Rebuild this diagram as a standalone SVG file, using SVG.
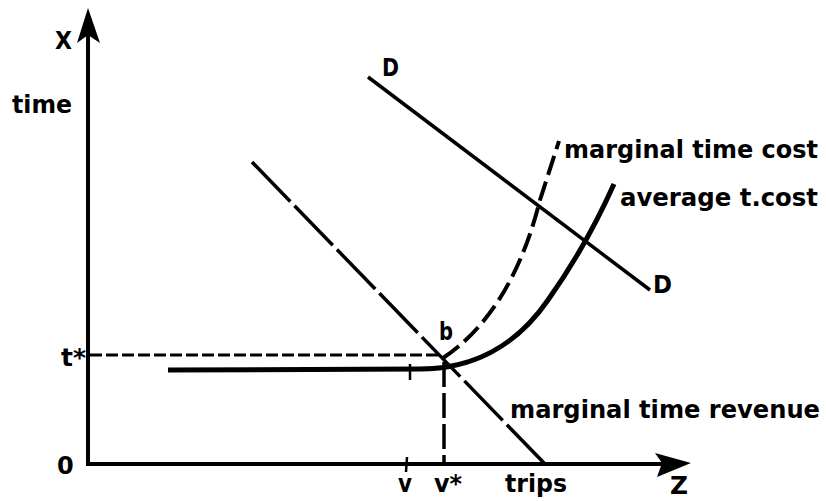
<svg xmlns="http://www.w3.org/2000/svg" width="826" height="501" viewBox="0 0 826 501">
<style>
text{font-family:"DejaVu Sans","Liberation Sans",sans-serif;font-weight:bold;font-size:24px;fill:#000}
.ax{stroke:#000;stroke-width:4;fill:none}
.ln{stroke:#000;fill:none;stroke-linecap:butt}
</style>
<rect width="826" height="501" fill="#fff"/>
<g id="axes">
<line class="ax" x1="88" y1="466" x2="88" y2="30"/>
<line class="ax" x1="86" y1="464" x2="670" y2="464"/>
<path d="M88,8 L100,43 L88,35 L77,43 Z" fill="#000"/>
<path d="M691,463 L655,453 L662,463 L657,477 Z" fill="#000"/>
</g>
<g id="curves">
<line id="demand" class="ln" stroke-width="3.5" x1="368" y1="77" x2="650" y2="290"/>
<line id="mrevenue" class="ln" stroke-width="3.5" stroke-dasharray="55 6" x1="252" y1="162" x2="545" y2="464"/>
<path id="avgcost" class="ln" stroke-width="5" d="M168,370 L420,369 C470,369 515,348 548,300 C575,262 597,222 614,184"/>
<path id="mcost" class="ln" stroke-width="4" stroke-dasharray="20 7" d="M443,358 C485,330 520,280 540,200 L559,141"/>
<line id="tstar" class="ln" stroke-width="3" stroke-dasharray="12 4" x1="90" y1="355" x2="442" y2="355"/>
<line id="vstar" class="ln" stroke-width="3.5" stroke-dasharray="25 6" x1="444" y1="362" x2="444" y2="462"/>
<line class="ln" stroke-width="2.5" x1="410" y1="364" x2="410" y2="380"/>
<line class="ln" stroke-width="2.5" x1="407" y1="457" x2="406" y2="472"/>
</g>
<g id="labels">
<text x="55" y="49" textLength="17" lengthAdjust="spacingAndGlyphs">X</text>
<text x="12" y="113" textLength="60" lengthAdjust="spacingAndGlyphs">time</text>
<text x="61" y="366" textLength="25" lengthAdjust="spacingAndGlyphs">t*</text>
<text x="57" y="474">0</text>
<text x="382" y="76" textLength="17" lengthAdjust="spacingAndGlyphs">D</text>
<text x="653" y="293" textLength="19" lengthAdjust="spacingAndGlyphs">D</text>
<text x="439" y="340" textLength="14" lengthAdjust="spacingAndGlyphs">b</text>
<text x="564" y="158" textLength="254" lengthAdjust="spacingAndGlyphs">marginal time cost</text>
<text x="620" y="206" textLength="198" lengthAdjust="spacingAndGlyphs">average t.cost</text>
<text x="510" y="418" textLength="310" lengthAdjust="spacingAndGlyphs">marginal time revenue</text>
<text x="398" y="492" textLength="14" lengthAdjust="spacingAndGlyphs">v</text>
<text x="434" y="492" textLength="28" lengthAdjust="spacingAndGlyphs">v*</text>
<text x="505" y="492" textLength="62" lengthAdjust="spacingAndGlyphs">trips</text>
<text x="670" y="494" textLength="18" lengthAdjust="spacingAndGlyphs">Z</text>
</g>
</svg>
